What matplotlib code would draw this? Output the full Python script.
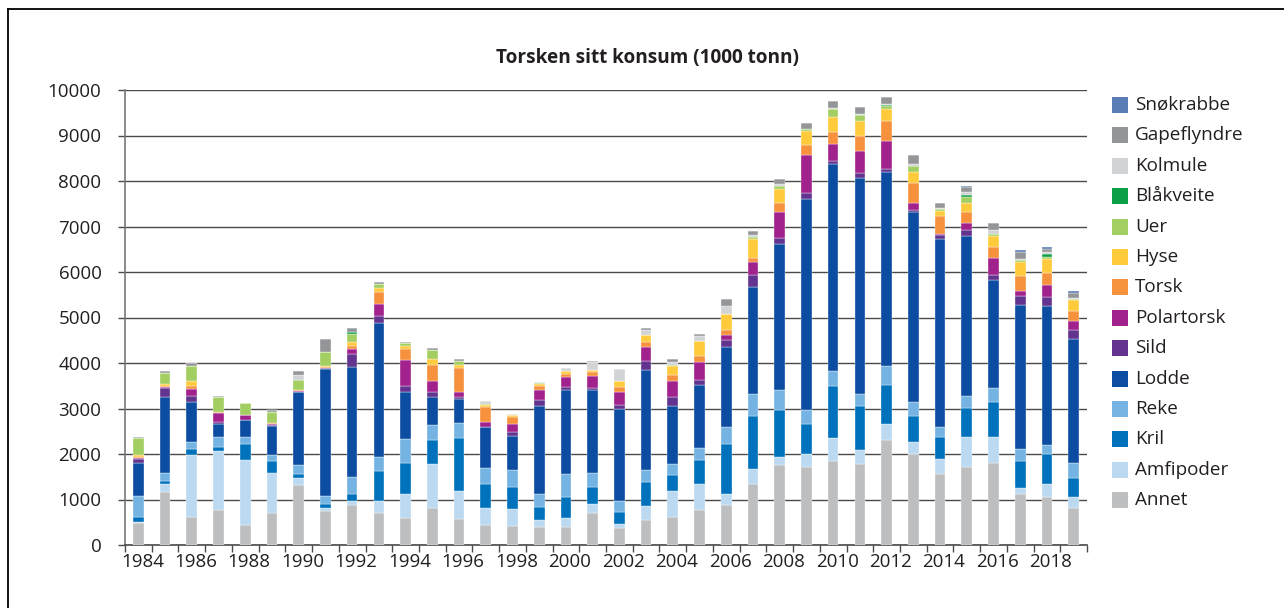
import numpy as np
import matplotlib
matplotlib.use("Agg")
import matplotlib.pyplot as plt
from matplotlib.patches import Rectangle
from matplotlib.lines import Line2D
from matplotlib.transforms import ScaledTranslation

plt.rcParams['font.family'] = ['Open Sans', 'DejaVu Sans']

years = list(range(1984, 2020))

annet = [490, 1163, 615, 768, 439, 710, 1317, 746, 870, 710, 585, 805, 563, 432, 417, 395, 395, 710,
         366, 549, 615, 768, 878, 1331, 1748, 1712, 1843, 1770, 2304, 1990, 1551, 1712, 1792, 1112, 1061, 805]
amfipoder = [15, 183, 1353, 1295, 1426, 877, 153, 73, 96, 256, 542, 965, 622, 387, 380, 154, 190, 182,
             102, 307, 570, 578, 234, 344, 183, 278, 498, 308, 359, 278, 344, 658, 578, 132, 285, 248]
kril = [117, 59, 132, 80, 344, 256, 81, 73, 146, 658, 680, 527, 1156, 512, 476, 285, 476, 381,
        256, 534, 344, 519, 1097, 1171, 1032, 680, 1148, 972, 863, 563, 475, 644, 768, 599, 644, 425]
reke = [453, 168, 160, 234, 154, 139, 197, 183, 380, 315, 512, 351, 344, 352, 366, 278, 490, 300,
        242, 249, 256, 271, 381, 482, 453, 307, 344, 278, 417, 315, 227, 256, 315, 271, 197, 329]
lodde = [732, 1682, 878, 293, 380, 630, 1610, 2795, 2422, 2940, 1039, 600, 526, 907, 753, 1938, 1865, 1829,
         2026, 2201, 1265, 1375, 1763, 2334, 3204, 4624, 4536, 4748, 4265, 4162, 4126, 3512, 2377, 3153, 3058, 2721]
sild = [88, 198, 147, 29, 15, 29, 14, 14, 292, 161, 146, 117, 44, 14, 95, 132, 59, 58,
        95, 213, 198, 125, 161, 278, 125, 131, 73, 95, 51, 59, 95, 131, 110, 198, 205, 190]
polartorsk = [14, 22, 146, 205, 95, 29, 14, 15, 103, 264, 571, 249, 103, 95, 176, 234, 212, 263,
              271, 292, 366, 387, 109, 278, 563, 842, 373, 490, 622, 160, 22, 161, 366, 109, 271, 198]
torsk = [22, 29, 58, 29, 7, 15, 15, 15, 58, 263, 234, 351, 526, 337, 146, 73, 80, 74,
         109, 110, 131, 125, 95, 88, 205, 219, 271, 329, 439, 439, 395, 234, 234, 329, 256, 219]
hyse = [44, 44, 125, 0, 0, 0, 15, 30, 88, 80, 58, 124, 66, 51, 44, 52, 52, 58,
        139, 168, 198, 329, 366, 417, 314, 307, 314, 330, 263, 242, 110, 205, 241, 308, 307, 242]
uer = [366, 234, 329, 322, 264, 234, 220, 300, 190, 95, 73, 190, 103, 22, 0, 14, 0, 0,
       0, 0, 22, 0, 0, 44, 73, 37, 183, 131, 66, 132, 36, 146, 52, 44, 36, 36]
blaakveite = [0, 0, 0, 0, 0, 0, 0, 0, 30, 0, 0, 0, 0, 0, 0, 0, 0, 0,
              0, 0, 0, 0, 0, 0, 0, 0, 0, 0, 29, 0, 0, 37, 0, 0, 81, 0]
kolmule = [14, 0, 0, 0, 0, 0, 102, 0, 0, 0, 0, 0, 0, 59, 22, 29, 65, 176,
           264, 95, 58, 124, 176, 36, 30, 14, 15, 22, 15, 36, 22, 73, 95, 29, 36, 15]
gapeflyndre = [22, 44, 58, 15, 0, 58, 95, 292, 102, 44, 30, 44, 36, 0, 15, 0, 15, 22,
               0, 52, 66, 44, 146, 88, 110, 118, 161, 147, 146, 198, 124, 95, 146, 146, 66, 102]
snokrabbe = [0, 0, 0, 0, 0, 0, 0, 0, 0, 0, 0, 0, 0, 0, 0, 0, 0, 0,
             0, 0, 0, 0, 0, 0, 0, 0, 0, 0, 0, 0, 0, 29, 0, 44, 44, 44]

series_names = ["Annet", "Amfipoder", "Kril", "Reke", "Lodde", "Sild", "Polartorsk",
                "Torsk", "Hyse", "Uer", "Blåkveite", "Kolmule", "Gapeflyndre", "Snøkrabbe"]
series_values = [annet, amfipoder, kril, reke, lodde, sild, polartorsk, torsk, hyse, uer,
                 blaakveite, kolmule, gapeflyndre, snokrabbe]
colors = ["#BCBEC0", "#BBD9F1", "#0072BC", "#74B3E2", "#0D4DA1", "#63348F", "#A2228D",
          "#F6923D", "#FFCB3D", "#A3CF62", "#0C9F48", "#D1D3D4", "#939598", "#5A7DB5"]

title = "Torsken sitt konsum (1000 tonn)"

W, H = 1284, 608
fig = plt.figure(figsize=(W / 100, H / 100), dpi=100)
ax = fig.add_axes([125 / W, (H - 545) / H, (1087 - 125) / W, (545 - 90) / H])

x = np.arange(len(years))
bottom = np.zeros(len(years))
for name, vals, c in zip(series_names, series_values, colors):
    v = np.array(vals, dtype=float)
    ax.bar(x, v, bottom=bottom, width=0.4, color=c, edgecolor='white', linewidth=0.25,
           label=name, zorder=3)
    bottom += v

ax.set_xlim(-0.5, len(years) - 0.5)
ax.set_ylim(0, 10000)
ax.set_yticks(np.arange(0, 10001, 1000))
ax.yaxis.grid(True, color='#4a4a4a', linewidth=1.0, zorder=0)
ax.set_axisbelow(True)
ax.tick_params(axis='y', length=5, width=1.0, color='#4a4a4a', labelsize=13.5,
               labelcolor='#231F20', pad=12)

for s in ['top', 'right']:
    ax.spines[s].set_visible(False)
ax.spines['left'].set_color('#777777')
ax.spines['left'].set_linewidth(1.2)
ax.spines['bottom'].set_color('#4a4a4a')
ax.spines['bottom'].set_linewidth(1.2)

ax.set_xticks(np.arange(-0.5, len(years), 1.0))
ax.set_xticklabels([])
ax.tick_params(axis='x', which='major', length=5, width=1.0, color='#4a4a4a', direction='out')
ax.set_xticks(x[::2], minor=True)
ax.set_xticklabels([str(y) for y in years[::2]], minor=True)
ax.tick_params(axis='x', which='minor', length=0, labelsize=13.5, labelcolor='#231F20', pad=6)
off = ScaledTranslation(4 / 100, 0, fig.dpi_scale_trans)
for lab in ax.get_xticklabels(minor=True):
    lab.set_transform(lab.get_transform() + off)

fig.text(648 / W, 1 - 58 / H, title, ha='center', va='center', fontsize=13.7,
         fontweight='bold', color='#231F20')

# legend (top to bottom: reversed stacking order)
for i, (name, c) in enumerate(zip(series_names[::-1], colors[::-1])):
    yc = 105 + i * 30.4
    fig.add_artist(Rectangle((1112 / W, 1 - (yc + 8) / H), 16 / W, 16 / H,
                             transform=fig.transFigure, facecolor=c, edgecolor='none'))
    fig.text(1135 / W, 1 - yc / H, name, ha='left', va='center', fontsize=13.6,
             color='#231F20')

# frame lines
fig.add_artist(Line2D([8 / W, 8 / W], [0, 1 - 9 / H], transform=fig.transFigure,
                      color='black', linewidth=1.3))
fig.add_artist(Line2D([8 / W, 1], [1 - 9 / H, 1 - 9 / H], transform=fig.transFigure,
                      color='black', linewidth=1.3))

fig.savefig("out.png", dpi=100)
